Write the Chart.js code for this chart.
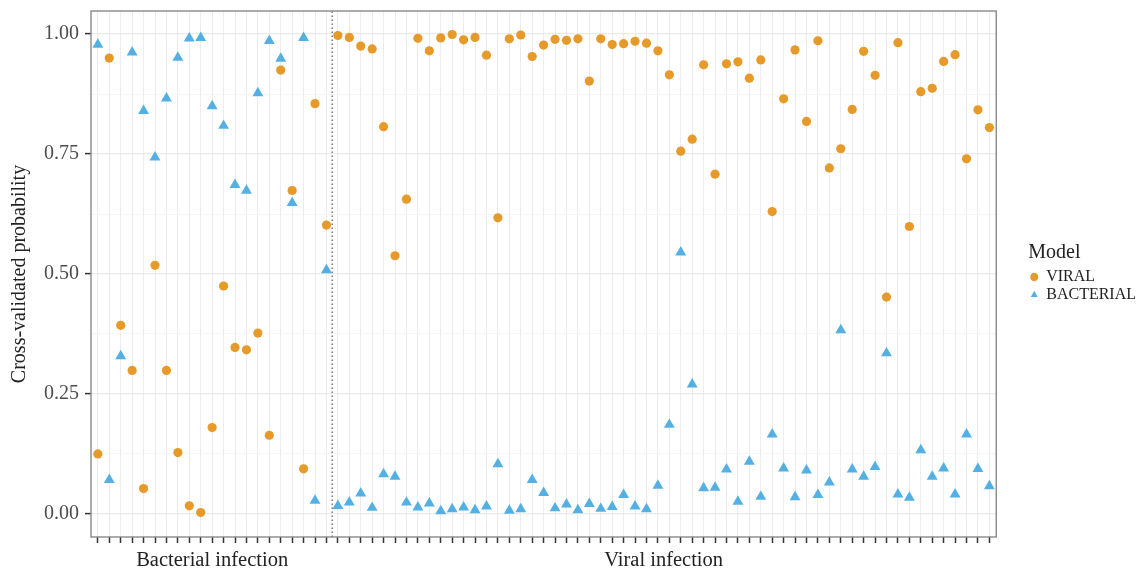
<!DOCTYPE html>
<html>
<head>
<meta charset="utf-8">
<script src="https://cdn.jsdelivr.net/npm/chart.js@4.4.1/dist/chart.umd.min.js"></script>
<style>
  html, body { margin: 0; padding: 0; background: #fff; }
</style>
</head>
<body>
<canvas id="chart" width="1138" height="569"></canvas>
<script>
// groups along the x axis (samples are ordered bacterial first, then viral)
const groups = ["Bacterial infection", "Viral infection"];
const groupSizes = [21, 58];
const seriesNames = ["VIRAL", "BACTERIAL"];
const yTicks = [0, 0.25, 0.5, 0.75, 1];

// cross-validated probability per sample, VIRAL model (circles)
const viral = [
  0.125, 0.950, 0.393, 0.299, 0.053, 0.518, 0.299, 0.128, 0.017, 0.003,
  0.180, 0.475, 0.347, 0.342, 0.377, 0.164, 0.925, 0.674, 0.094, 0.855,
  0.602,
  0.997, 0.993, 0.975, 0.969, 0.807, 0.538, 0.656, 0.991, 0.965, 0.992,
  0.999, 0.988, 0.993, 0.956, 0.617, 0.990, 0.998, 0.953, 0.977, 0.989,
  0.987, 0.990, 0.902, 0.990, 0.978, 0.980, 0.985, 0.981, 0.965, 0.915,
  0.756, 0.781, 0.936, 0.708, 0.938, 0.942, 0.908, 0.946, 0.630, 0.865,
  0.967, 0.818, 0.986, 0.721, 0.761, 0.843, 0.964, 0.914, 0.452, 0.982,
  0.599, 0.880, 0.887, 0.943, 0.957, 0.740, 0.842, 0.805
];

// BACTERIAL model (triangles)
const bacterial = [
  0.978, 0.071, 0.329, 0.962, 0.840, 0.743, 0.866, 0.951, 0.991, 0.992,
  0.850, 0.809, 0.686, 0.674, 0.877, 0.986, 0.949, 0.648, 0.992, 0.028,
  0.508,
  0.017, 0.024, 0.043, 0.013, 0.083, 0.078, 0.024, 0.014, 0.022, 0.006,
  0.010, 0.014, 0.008, 0.016, 0.104, 0.007, 0.010, 0.071, 0.044, 0.012,
  0.020, 0.008, 0.021, 0.011, 0.015, 0.040, 0.016, 0.010, 0.059, 0.186,
  0.545, 0.270, 0.054, 0.055, 0.093, 0.026, 0.109, 0.036, 0.166, 0.095,
  0.035, 0.091, 0.040, 0.066, 0.383, 0.093, 0.078, 0.098, 0.335, 0.041,
  0.034, 0.133, 0.078, 0.095, 0.041, 0.166, 0.094, 0.058
];

const nSamples = groupSizes[0] + groupSizes[1];
const xMin = -0.6, xMax = nSamples - 0.4;
const yMin = -0.048, yMax = 1.048;
const divider = groupSizes[0] - 0.5;
const groupCenters = [(groupSizes[0] - 1) / 2, groupSizes[0] + (groupSizes[1] - 1) / 2];
// major + minor y grid (minor halfway between majors)
const yGrid = yTicks.flatMap((v, i) => i < yTicks.length - 1 ? [v, (v + yTicks[i + 1]) / 2] : [v]);

const serif = "'Liberation Serif', 'DejaVu Serif', serif";

const toPoints = arr => arr.map((v, i) => ({ x: i, y: v }));

// no extra room for half tick labels, the chart area is set by layout padding
const noPad = s => { s.paddingTop = 0; s.paddingBottom = 0; s.paddingLeft = 0; s.paddingRight = 0; };

const panelBorder = {
  id: 'panelBorder',
  afterDatasetsDraw(chart) {
    const { ctx, chartArea: a } = chart;
    ctx.save();
    ctx.strokeStyle = '#808080';
    ctx.lineWidth = 1.3;
    ctx.strokeRect(a.left, a.top, a.right - a.left, a.bottom - a.top);
    ctx.restore();
  }
};

new Chart('chart', {
  type: 'scatter',
  data: {
    datasets: [
      {
        label: seriesNames[0],
        data: toPoints(viral),
        xAxisID: 'x',
        yAxisID: 'y',
        pointStyle: 'circle',
        pointRadius: 4.6,
        backgroundColor: '#E69A2A',
        borderColor: '#E69A2A',
        borderWidth: 0
      },
      {
        label: seriesNames[1],
        data: toPoints(bacterial),
        xAxisID: 'x',
        yAxisID: 'y',
        pointStyle: 'triangle',
        pointRadius: 6.3,
        backgroundColor: '#54B0E3',
        borderColor: '#54B0E3',
        borderWidth: 0
      },
      {
        label: 'divider',
        type: 'line',
        data: [{ x: divider, y: yMin }, { x: divider, y: yMax }],
        xAxisID: 'x',
        yAxisID: 'y',
        borderColor: '#555',
        borderWidth: 1.2,
        borderDash: [1.5, 2.5],
        pointRadius: 0,
        order: 5
      }
    ]
  },
  options: {
    responsive: false,
    animation: false,
    layout: { padding: { top: 11, right: -8, left: 0, bottom: 0 } },
    plugins: {
      tooltip: { enabled: false },
      legend: {
        position: 'right',
        fullSize: false,
        title: {
          display: true,
          text: 'Model',
          position: 'start',
          color: '#222',
          font: { family: serif, size: 20 },
          padding: { top: 0, bottom: 0 }
        },
        labels: {
          usePointStyle: true,
          pointStyleWidth: 8,
          boxHeight: 6,
          padding: 2,
          color: '#222',
          font: { family: serif, size: 16 },
          filter: item => item.datasetIndex < 2
        }
      }
    },
    scales: {
      x: {
        type: 'linear',
        position: 'bottom',
        min: xMin,
        max: xMax,
        afterBuildTicks: s => { s.ticks = viral.map((_, i) => ({ value: i })); },
        afterFit: s => { s.height = 7; noPad(s); },
        ticks: { callback: () => '', autoSkip: false, maxRotation: 0, padding: 0 },
        grid: { color: '#ebebf0', lineWidth: 1, tickLength: 6, tickColor: '#333', tickWidth: 1.5 },
        border: { display: false }
      },
      y: {
        min: yMin,
        max: yMax,
        afterBuildTicks: s => { s.ticks = yGrid.map(v => ({ value: v })); },
        afterFit: s => { s.width = 91; noPad(s); },
        ticks: {
          callback: (v, i) => (i % 2 === 0 ? yGrid[i].toFixed(2) : ''),
          color: '#4d4d4d',
          padding: 6,
          font: { family: serif, size: 20 }
        },
        grid: {
          color: ctx => (ctx.index % 2 === 0 ? '#ebebeb' : '#f4f4f4'),
          lineWidth: ctx => (ctx.index % 2 === 0 ? 1.2 : 0.8),
          tickColor: ctx => (ctx.index % 2 === 0 ? '#333' : 'rgba(0,0,0,0)'),
          tickLength: 6,
          tickWidth: 1.5
        },
        border: { display: false },
        title: {
          display: true,
          text: 'Cross-validated probability',
          color: '#222',
          font: { family: serif, size: 20 },
          padding: { top: 8, bottom: 0 }
        }
      },
      group: {
        type: 'linear',
        position: 'bottom',
        min: xMin,
        max: xMax,
        afterBuildTicks: s => { s.ticks = groupCenters.map(v => ({ value: v })); },
        afterFit: s => { s.height = 25; noPad(s); },
        ticks: {
          callback: (v, i) => groups[i],
          autoSkip: false,
          maxRotation: 0,
          padding: -4,
          color: '#222',
          font: { family: serif, size: 20.5 }
        },
        grid: { display: false },
        border: { display: false }
      },
      gap: {
        type: 'linear',
        position: 'right',
        min: 0,
        max: 1,
        afterFit: s => { s.width = 32; noPad(s); },
        ticks: { display: false },
        grid: { display: false },
        border: { display: false }
      }
    }
  },
  plugins: [panelBorder]
});
</script>
</body>
</html>
